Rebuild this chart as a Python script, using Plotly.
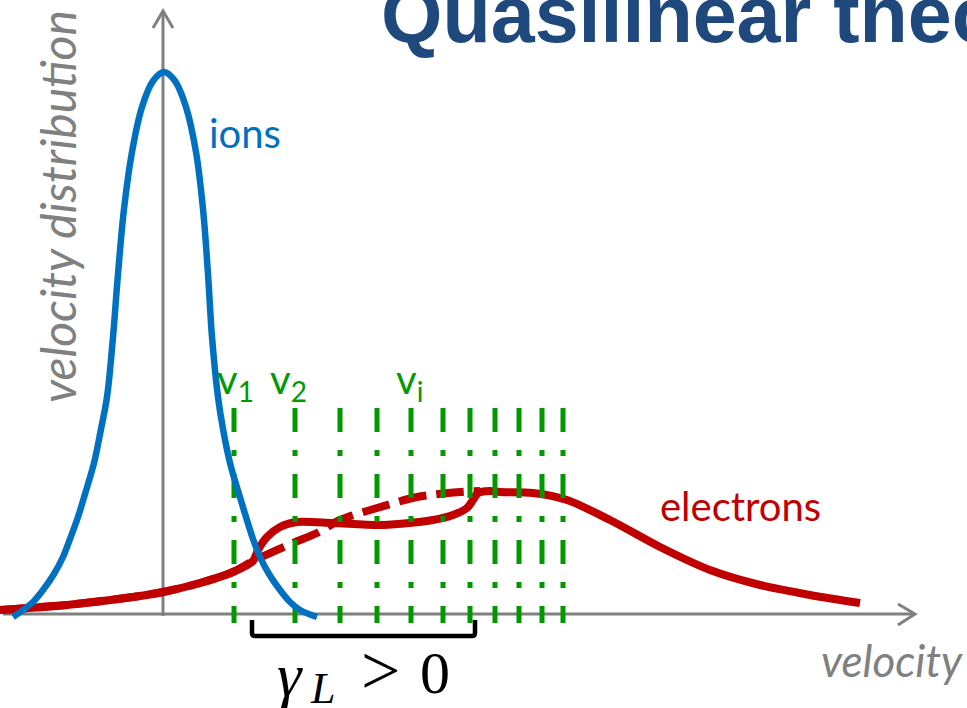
import plotly.graph_objects as go

# ---- data (velocity in arbitrary units, distribution in arbitrary units) ----
ion_v = [-1.50, -1.40, -1.30, -1.20, -1.09, -1.00, -0.93, -0.85, -0.78, -0.69, -0.62, -0.56,
         -0.50, -0.45, -0.39, -0.31, -0.21, -0.10, 0.01,
         0.12, 0.23, 0.33, 0.40, 0.45, 0.49, 0.55, 0.60, 0.67, 0.76, 0.83, 0.90, 0.97,
         1.06, 1.17, 1.27, 1.37, 1.54]
ion_f = [-0.03, 0.04, 0.12, 0.24, 0.40, 0.57, 0.75, 0.97, 1.20, 1.51, 1.85, 2.17,
         2.77, 3.40, 4.05, 4.62, 5.07, 5.33, 5.42,
         5.33, 5.07, 4.62, 4.05, 3.40, 2.77, 2.17, 1.85, 1.51, 1.20, 0.97, 0.75, 0.57,
         0.40, 0.24, 0.12, 0.04, -0.03]

# plateau-formed electron distribution (solid)
ele_v = [-1.63, -0.96, -0.30, 0.00, 0.37, 0.70, 0.90, 0.95, 1.04, 1.17, 1.34, 1.70, 2.20,
         2.70, 2.90, 3.04, 3.10, 3.15, 3.27, 3.37, 3.70, 4.04, 4.47, 4.97, 5.47, 5.97, 6.47, 6.97]
ele_f = [0.04, 0.09, 0.17, 0.22, 0.31, 0.42, 0.53, 0.64, 0.77, 0.87, 0.92, 0.91, 0.89,
         0.94, 0.99, 1.06, 1.14, 1.21, 1.23, 1.22, 1.21, 1.14, 0.94, 0.67, 0.44, 0.29, 0.19, 0.11]

# initial bump-on-tail electron distribution (dashed)
ele0_v = [-1.63, -0.96, -0.30, 0.00, 0.37, 0.70, 0.90, 1.30, 1.54, 1.77, 2.14, 2.54, 2.97, 3.17]
ele0_f = [0.04, 0.09, 0.17, 0.22, 0.31, 0.42, 0.53, 0.71, 0.81, 0.94, 1.06, 1.17, 1.22, 1.23]

# resonant phase velocities v_1, v_2, ..., v_i
wave_v = [0.71, 1.32, 1.77, 2.14, 2.48, 2.80, 3.07, 3.32, 3.56, 3.79, 4.00]
wave_top = 2.06
wave_bottom = -0.09
wave_labels = [("v", "1", 0.72), ("v", "2", 1.25), ("v", "i", 2.46)]

growth_range = [0.89, 3.12]   # region where gamma_L > 0

X_RANGE = [-1.63, 8.04]
Y_RANGE = [-0.94, 6.14]

BLUE = "#0070C0"
RED = "#C00000"
GREEN = "#009A00"
GREY = "#808080"
TITLE_BLUE = "#1F497D"
LABEL_FONT = "Lato"
MATH_FONT = "Liberation Serif"

fig = go.Figure()

# electrons: initial (dashed) and quasilinear plateau (solid)
fig.add_trace(go.Scatter(x=ele0_v, y=ele0_f, mode="lines",
                         line=dict(color=RED, width=8, dash="28px,10px", shape="spline", smoothing=0.8),
                         hoverinfo="skip"))
fig.add_trace(go.Scatter(x=ele_v, y=ele_f, mode="lines",
                         line=dict(color=RED, width=8, shape="spline", smoothing=0.8),
                         hoverinfo="skip"))

# resonant waves
for v in wave_v:
    fig.add_trace(go.Scatter(x=[v, v], y=[wave_top, wave_bottom], mode="lines",
                             line=dict(color=GREEN, width=5, dash="24px,18px,6px,18px"),
                             hoverinfo="skip"))

# ions
fig.add_trace(go.Scatter(x=ion_v, y=ion_f, mode="lines",
                         line=dict(color=BLUE, width=6.5, shape="spline", smoothing=1.0),
                         hoverinfo="skip"))

# axes with open arrow heads
axis_line = dict(color=GREY, width=3)
x_end, y_end = 7.52, 6.03
shapes = [
    dict(type="line", x0=-1.60, y0=0, x1=x_end, y1=0, line=axis_line, layer="below"),
    dict(type="line", x0=0, y0=-0.02, x1=0, y1=y_end, line=axis_line, layer="below"),
    dict(type="path", path=f"M {x_end-0.17},0.10 L {x_end},0 L {x_end-0.17},-0.11",
         line=axis_line, layer="below"),
    dict(type="path", path=f"M -0.10,{y_end-0.17} L 0,{y_end} L 0.10,{y_end-0.17}",
         line=axis_line, layer="below"),
    # bracket marking the growth region
    dict(type="path",
         path=(f"M {growth_range[0]},-0.06 L {growth_range[0]},-0.19 "
               f"Q {growth_range[0]},-0.22 {growth_range[0]+0.03},-0.22 "
               f"L {growth_range[1]-0.03},-0.22 "
               f"Q {growth_range[1]},-0.22 {growth_range[1]},-0.19 L {growth_range[1]},-0.06"),
         line=dict(color="black", width=4.5)),
]

annotations = [
    dict(x=0.44, y=4.81, text="ions", xanchor="left", yanchor="middle",
         font=dict(family=LABEL_FONT, size=40, color=BLUE)),
    dict(x=4.95, y=1.08, text="electrons", xanchor="left", yanchor="middle",
         font=dict(family=LABEL_FONT, size=40, color=RED)),
    dict(x=8.02, y=-0.46, text="<i>velocity</i>", xanchor="right", yanchor="middle",
         font=dict(family=LABEL_FONT, size=44, color=GREY)),
    dict(x=-1.06, y=4.07, text="<i>velocity distribution</i>", textangle=-90,
         xanchor="center", yanchor="middle",
         font=dict(family=LABEL_FONT, size=48, color=GREY)),
    # growth-rate label, gamma_L > 0
    dict(x=1.12, y=-0.61, text="<i>γ</i>", xanchor="left", yanchor="middle",
         font=dict(family=MATH_FONT, size=62, color="black")),
    dict(x=1.59, y=-0.74, text="<i>L</i>", xanchor="center", yanchor="middle",
         font=dict(family=MATH_FONT, size=44, color="black")),
    dict(x=2.17, y=-0.56, text="&gt;", xanchor="center", yanchor="middle",
         font=dict(family=MATH_FONT, size=70, color="black")),
    dict(x=2.72, y=-0.59, text="0", xanchor="center", yanchor="middle",
         font=dict(family=MATH_FONT, size=60, color="black")),
    dict(x=2.16, y=6.00, text="<b>Quasilinear theory</b>", xanchor="left", yanchor="middle",
         font=dict(family="Liberation Sans", size=79, color=TITLE_BLUE)),
]
for base, sub, v in wave_labels:
    annotations.append(dict(x=v, y=2.33, text=f"{base}<sub>{sub}</sub>", xanchor="center",
                            yanchor="middle", font=dict(family=LABEL_FONT, size=40, color=GREEN)))

for a in annotations:
    a.setdefault("showarrow", False)
    a.setdefault("xref", "x")
    a.setdefault("yref", "y")

fig.update_layout(
    width=967, height=708,
    margin=dict(l=0, r=0, t=0, b=0),
    paper_bgcolor="white", plot_bgcolor="white",
    showlegend=False,
    xaxis=dict(range=X_RANGE, visible=False, fixedrange=True),
    yaxis=dict(range=Y_RANGE, visible=False, fixedrange=True),
    shapes=shapes,
    annotations=annotations,
)

fig.write_html("out.html", config={"displayModeBar": False})
